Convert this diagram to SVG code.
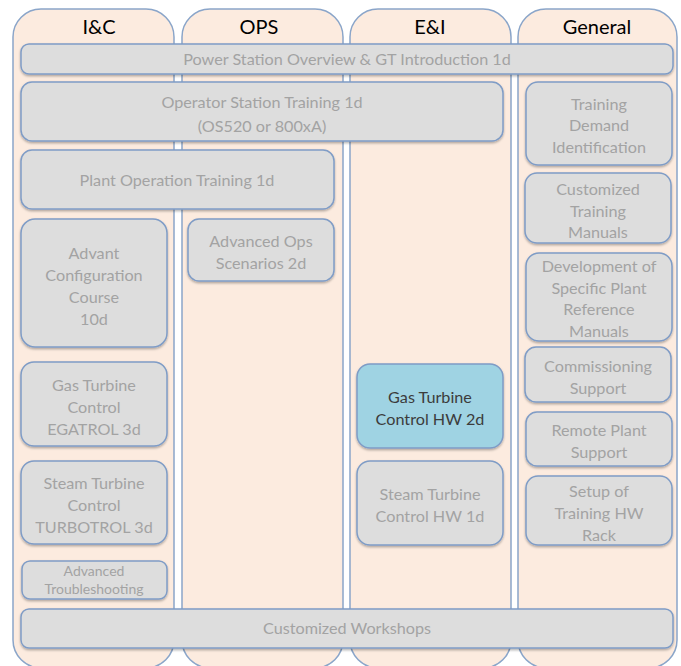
<svg xmlns="http://www.w3.org/2000/svg" width="681" height="666" viewBox="0 0 681 666">
<style>
.lane{fill:#fcebdf;stroke:#8aa5c9;stroke-width:1.5}
.box{fill:#dddddd;stroke:#7f9cc6;stroke-width:1.5;filter:url(#sh)}
.hl{fill:#9fd3e3}
.hd{font-family:Lato,"Liberation Sans",sans-serif;font-size:20px;fill:#000;text-anchor:middle}
.t{font-family:Lato,"Liberation Sans",sans-serif;font-size:16.2px;fill:#a3a3a3;text-anchor:middle}
.d{fill:#3c3c3c}
.s{font-size:14px}
</style>
<defs>
<filter id="sh" x="-10%" y="-10%" width="120%" height="130%">
<feDropShadow dx="0" dy="1.5" stdDeviation="1.2" flood-color="#000" flood-opacity="0.3"/>
</filter>
</defs>
<rect width="681" height="666" fill="#ffffff"/>
<g id="lanes">
<g id="lane-ic"><rect class="lane" x="13" y="9" width="161" height="659" rx="28"/><text class="hd" x="99" y="34">I&amp;C</text></g>
<g id="lane-ops"><rect class="lane" x="182" y="9" width="161" height="659" rx="28"/><text class="hd" x="259" y="34">OPS</text></g>
<g id="lane-ei"><rect class="lane" x="350" y="9" width="161" height="659" rx="28"/><text class="hd" x="430" y="34">E&amp;I</text></g>
<g id="lane-gen"><rect class="lane" x="518" y="9" width="159" height="659" rx="28"/><text class="hd" x="597" y="34">General</text></g>
</g>
<g id="connectors"></g>
<g id="n-power"><rect class="box" x="21" y="44" width="652" height="30" rx="8"/><text class="t" x="347" y="64.5">Power Station Overview &amp; GT Introduction 1d</text></g>
<g id="n-operator"><rect class="box" x="21" y="82" width="482" height="59" rx="11"/><text class="t" x="262" y="108">Operator Station Training 1d</text><text class="t" x="262" y="132">(OS520 or 800xA)</text></g>
<g id="n-tdi"><rect class="box" x="526" y="82" width="146" height="83" rx="12"/><text class="t" x="599" y="109.5">Training</text><text class="t" x="599" y="131">Demand</text><text class="t" x="599" y="153">Identification</text></g>
<g id="n-plant"><rect class="box" x="21" y="150" width="313" height="59" rx="11"/><text class="t" x="177" y="186">Plant Operation Training 1d</text></g>
<g id="n-advant"><rect class="box" x="21" y="219" width="146" height="128" rx="14"/><text class="t" x="94" y="259">Advant</text><text class="t" x="94" y="281">Configuration</text><text class="t" x="94" y="303">Course</text><text class="t" x="94" y="325">10d</text></g>
<g id="n-advops"><rect class="box" x="188" y="219" width="146" height="62" rx="11"/><text class="t" x="261" y="247">Advanced Ops</text><text class="t" x="261" y="268.5">Scenarios 2d</text></g>
<g id="n-ctm"><rect class="box" x="525" y="173" width="146" height="70" rx="12"/><text class="t" x="598" y="195">Customized</text><text class="t" x="598" y="216.5">Training</text><text class="t" x="598" y="238">Manuals</text></g>
<g id="n-dev"><rect class="box" x="526" y="253" width="146" height="88" rx="13"/><text class="t" x="599" y="272">Development of</text><text class="t" x="599" y="293.5">Specific Plant</text><text class="t" x="599" y="315">Reference</text><text class="t" x="599" y="336.5">Manuals</text></g>
<g id="n-comm"><rect class="box" x="525" y="347" width="146" height="55" rx="11"/><text class="t" x="598" y="372">Commissioning</text><text class="t" x="598" y="393.5">Support</text></g>
<g id="n-remote"><rect class="box" x="526" y="412" width="146" height="54" rx="11"/><text class="t" x="599" y="436">Remote Plant</text><text class="t" x="599" y="457.5">Support</text></g>
<g id="n-setup"><rect class="box" x="526" y="476" width="146" height="69" rx="12"/><text class="t" x="599" y="497">Setup of</text><text class="t" x="599" y="519">Training HW</text><text class="t" x="599" y="541">Rack</text></g>
<g id="n-gthw"><rect class="box hl" x="357" y="364" width="146" height="84" rx="13"/><text class="t d" x="430" y="403">Gas Turbine</text><text class="t d" x="430" y="425">Control HW 2d</text></g>
<g id="n-sthw"><rect class="box" x="357" y="461" width="146" height="84" rx="13"/><text class="t" x="430" y="500">Steam Turbine</text><text class="t" x="430" y="522">Control HW 1d</text></g>
<g id="n-egatrol"><rect class="box" x="21" y="362" width="146" height="84" rx="13"/><text class="t" x="94" y="391">Gas Turbine</text><text class="t" x="94" y="413">Control</text><text class="t" x="94" y="435">EGATROL 3d</text></g>
<g id="n-turbotrol"><rect class="box" x="21" y="461" width="146" height="83" rx="13"/><text class="t" x="94" y="489">Steam Turbine</text><text class="t" x="94" y="511">Control</text><text class="t" x="94" y="533">TURBOTROL 3d</text></g>
<g id="n-troub"><rect class="box" x="22" y="561" width="145" height="38" rx="8"/><text class="t s" x="94" y="576">Advanced</text><text class="t s" x="94" y="594">Troubleshooting</text></g>
<g id="n-workshops"><rect class="box" x="21" y="609" width="652" height="39" rx="8"/><text class="t" x="347" y="634">Customized Workshops</text></g>
</svg>
